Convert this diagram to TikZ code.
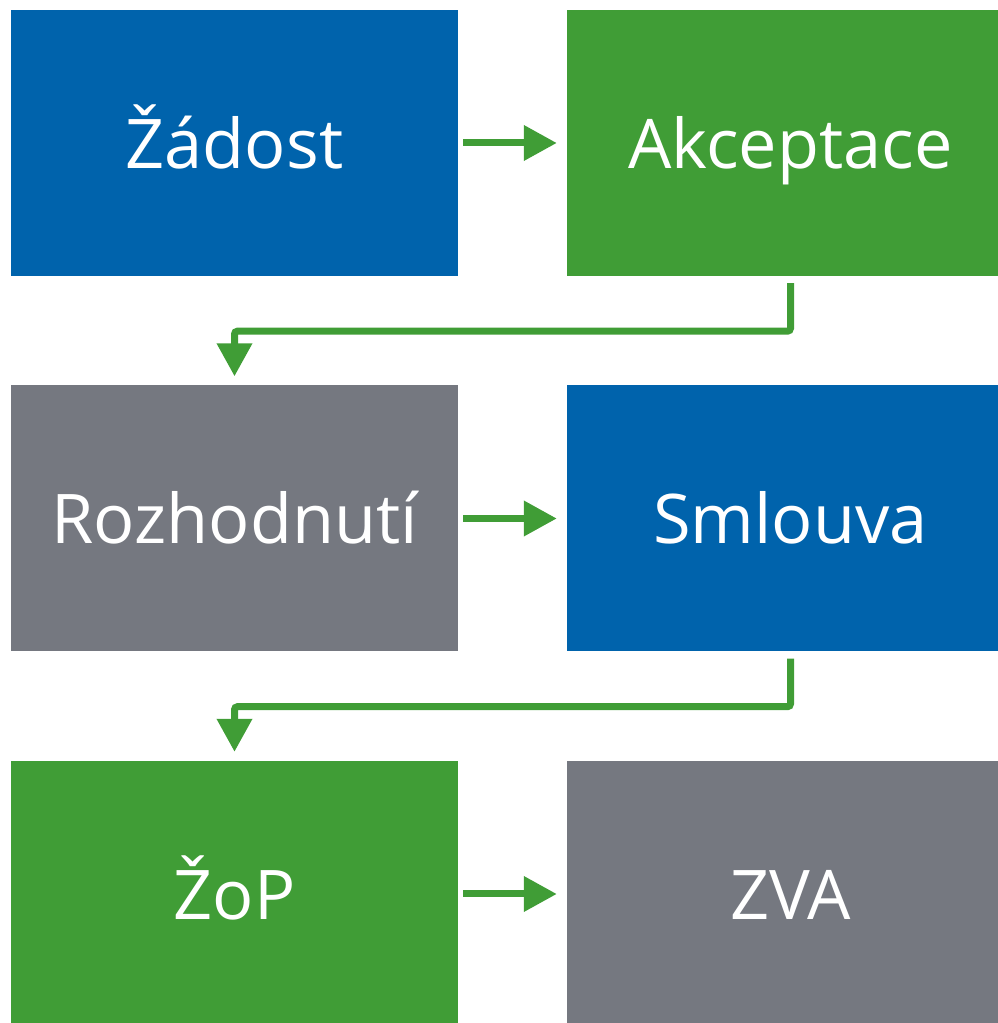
\documentclass[tikz,border=0pt]{standalone}
\usepackage{fontspec}
\setmainfont{Open Sans}
\usetikzlibrary{arrows.meta}
\definecolor{boxblue}{RGB}{0,99,172}
\definecolor{boxgreen}{RGB}{64,157,54}
\definecolor{boxgray}{RGB}{117,120,128}
\tikzset{
  stage/.style={rectangle, minimum width=447pt, minimum height=266pt, inner sep=0pt,
    text=white, font=\fontsize{68.5}{68.5}\selectfont, text height=51pt, text depth=0pt},
  flow/.style={draw=boxgreen, line width=7pt, rounded corners=3pt,
    -{Triangle[length=33pt, width=34pt]}}
}
\begin{document}
\begin{tikzpicture}[x=1pt, y=1pt]
 \useasboundingbox (0,0) rectangle (998,1023);
 \node[stage, fill=boxblue] (zadost) at (234.5,880) {Žádost};
 \node[stage, fill=boxgreen] (akceptace) at (790.5,880) {Akceptace};
 \node[stage, fill=boxgray] (rozhodnuti) at (234.5,504.5) {Rozhodnutí};
 \node[stage, fill=boxblue] (smlouva) at (790.5,504.5) {Smlouva};
 \node[stage, fill=boxgreen] (zop) at (234.5,129) {ŽoP};
 \node[stage, fill=boxgray] (zva) at (790.5,129) {ZVA};
 \draw[flow] ([xshift=5pt]zadost.east) -- ([xshift=-10pt]akceptace.west);
 \draw[flow] ([xshift=5pt]rozhodnuti.east) -- ([xshift=-10pt]smlouva.west);
 \draw[flow] ([xshift=5pt]zop.east) -- ([xshift=-10pt]zva.west);
 \draw[flow] ([yshift=-7pt]akceptace.south) -- ++(0,-48) -| ([yshift=9pt]rozhodnuti.north);
 \draw[flow] ([yshift=-7pt]smlouva.south) -- ++(0,-48) -| ([yshift=9pt]zop.north);
\end{tikzpicture}
\end{document}
